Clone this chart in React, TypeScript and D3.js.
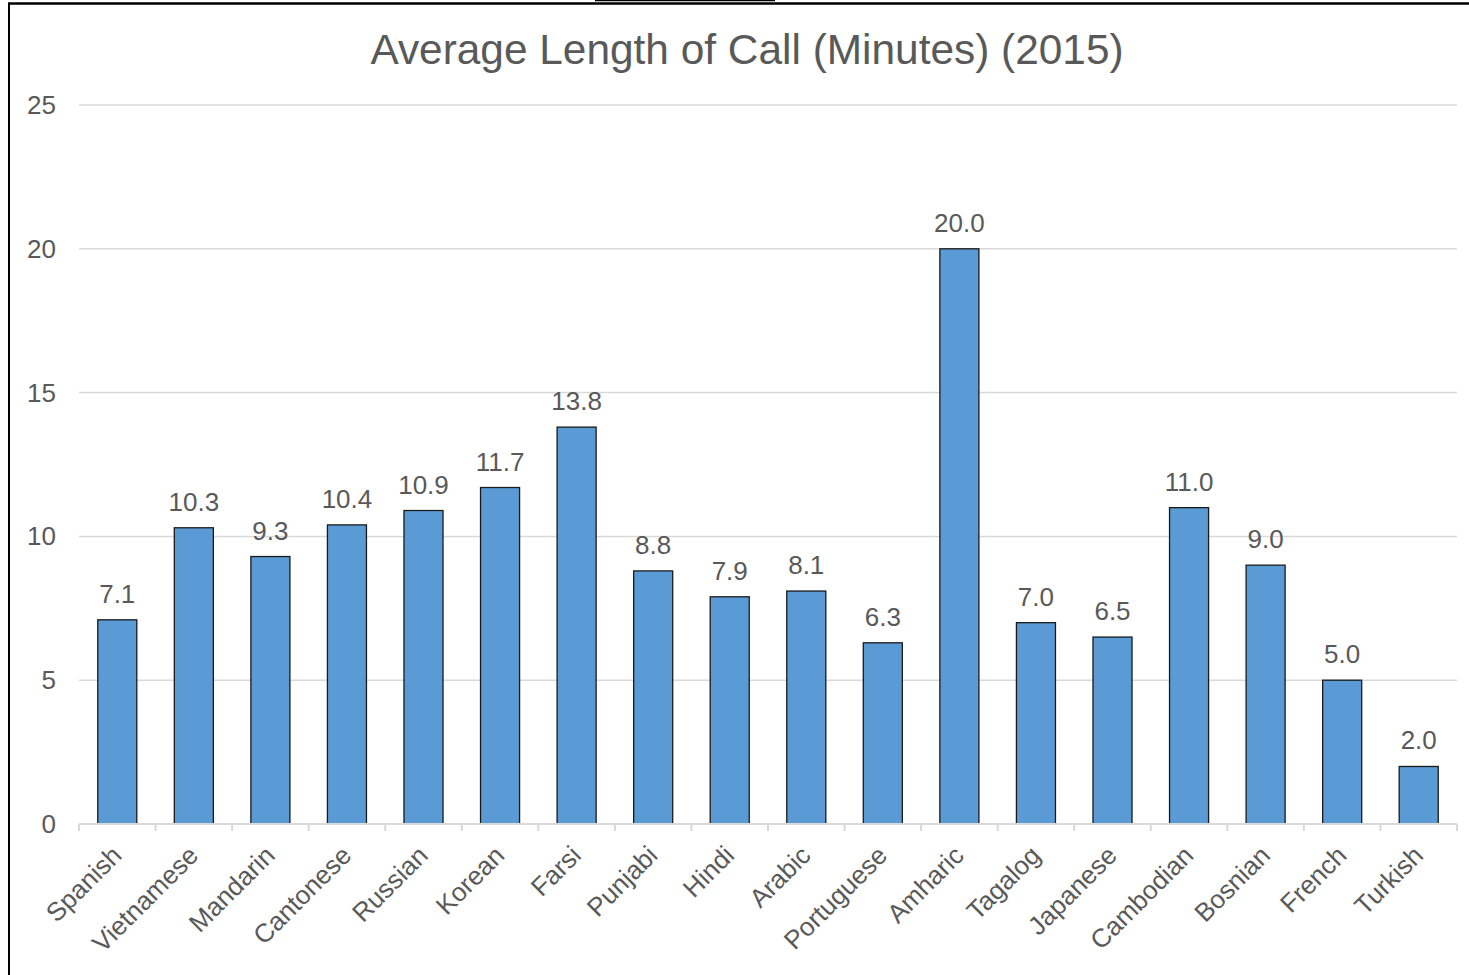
import React from "react";
import * as d3 from "d3";

// Average call length per language, 2015
const languages = [
  "Spanish", "Vietnamese", "Mandarin", "Cantonese", "Russian", "Korean",
  "Farsi", "Punjabi", "Hindi", "Arabic", "Portuguese", "Amharic",
  "Tagalog", "Japanese", "Cambodian", "Bosnian", "French", "Turkish",
];
const minutes = [
  7.1, 10.3, 9.3, 10.4, 10.9, 11.7, 13.8, 8.8, 7.9, 8.1, 6.3, 20.0,
  7.0, 6.5, 11.0, 9.0, 5.0, 2.0,
];
const yTicks = [0, 5, 10, 15, 20, 25];
const chartTitle = "Average Length of Call (Minutes) (2015)";

const W = 1469;
const H = 975;
const plot = { left: 79, right: 1457, top: 105, bottom: 824 };
const FONT = "'Liberation Sans', Arial, sans-serif";
const TEXT = "#595959";

export default function App() {
  const x = d3
    .scaleBand<string>()
    .domain(languages)
    .range([plot.left, plot.right])
    .paddingInner(0.49)
    .paddingOuter(0.245);
  const band = d3.scaleBand<string>().domain(languages).range([plot.left, plot.right]);
  const y = d3.scaleLinear().domain([0, 25]).range([plot.bottom, plot.top]);

  const boundaries = d3.range(languages.length + 1).map((i) => plot.left + i * band.step());

  return (
    <svg
      width={W}
      height={H}
      style={{ position: "absolute", left: 0, top: 0, background: "#fff" }}
      fontFamily={FONT}
    >
      <rect x={0} y={0} width={W} height={H} fill="#fff" />
      {/* frame edges */}
      <line x1={595} x2={775} y1={0.5} y2={0.5} stroke="#000" strokeWidth={1.5} />
      <line x1={8} x2={W} y1={3.5} y2={3.5} stroke="#000" strokeWidth={2.5} />
      <line x1={9} x2={9} y1={3} y2={H} stroke="#000" strokeWidth={2} />

      <text x={747} y={64} textAnchor="middle" fontSize={42.4} fill={TEXT}>
        {chartTitle}
      </text>

      {/* gridlines and y labels */}
      {yTicks.map((t) => (
        <g key={t}>
          {t > 0 && (
            <line x1={plot.left} x2={plot.right} y1={y(t)} y2={y(t)} stroke="#D9D9D9" strokeWidth={1.5} />
          )}
          <text x={56} y={y(t) + 9} textAnchor="end" fontSize={26} fill={TEXT}>
            {t}
          </text>
        </g>
      ))}

      {/* bars */}
      {languages.map((l, i) => (
        <rect
          key={l}
          x={x(l)}
          y={y(minutes[i])}
          width={x.bandwidth()}
          height={y(0) - y(minutes[i])}
          fill="#5B9BD5"
          stroke="#1a1a1a"
          strokeWidth={1.3}
        />
      ))}

      {/* category axis */}
      <line x1={plot.left} x2={plot.right} y1={plot.bottom} y2={plot.bottom} stroke="#D9D9D9" strokeWidth={2} />
      {boundaries.map((bx, i) => (
        <line key={i} x1={bx} x2={bx} y1={plot.bottom} y2={plot.bottom + 7} stroke="#D9D9D9" strokeWidth={2} />
      ))}

      {/* value labels */}
      {languages.map((l, i) => (
        <text
          key={l}
          x={x(l)! + x.bandwidth() / 2}
          y={y(minutes[i]) - 17}
          textAnchor="middle"
          fontSize={26}
          fill={TEXT}
        >
          {minutes[i].toFixed(1)}
        </text>
      ))}

      {/* rotated category labels */}
      {languages.map((l) => (
        <text
          key={l}
          transform={`translate(${band(l)! + band.bandwidth() / 2 + 6},${plot.bottom + 33}) rotate(-45)`}
          textAnchor="end"
          fontSize={26}
          fill={TEXT}
        >
          {l}
        </text>
      ))}
    </svg>
  );
}
